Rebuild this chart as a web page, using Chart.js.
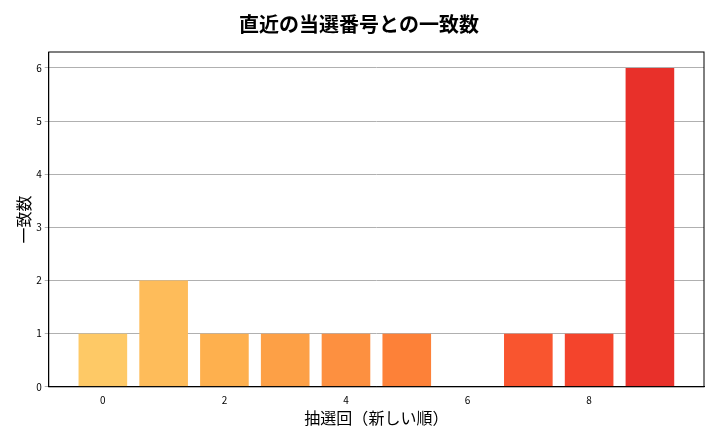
<!DOCTYPE html>
<html>
<head>
<meta charset="utf-8">
<script src="https://cdn.jsdelivr.net/npm/chart.js@4/dist/chart.umd.min.js"></script>
<style>
  body { margin: 0; background: #fff; }
  #wrap { width: 720px; height: 432px; }
</style>
</head>
<body>
<div id="wrap"><canvas id="chart"></canvas></div>
<script>
var draws = [0, 1, 2, 3, 4, 5, 6, 7, 8, 9];
var matches = [1, 2, 1, 1, 1, 1, 0, 1, 1, 6];
var barColors = ['#fec966', '#febc5a', '#feb04e', '#fda046', '#fd9040', '#fd8138', '#fc6c33', '#f9552f', '#f4442c', '#e8302a'];
var xTicks = [0, 2, 4, 6, 8];
var font = "'Noto Sans CJK JP', 'Noto Sans', sans-serif";

// matplotlib-style box around the plot area
var frame = {
    id: 'frame',
    afterDraw: function(chart){
        var a = chart.chartArea, ctx = chart.ctx;
        ctx.save();
        ctx.strokeStyle = '#000';
        ctx.lineWidth = 1;
        ctx.strokeRect(a.left, a.top, a.right - a.left, a.bottom - a.top);
        ctx.restore();
    }
};

new Chart(document.getElementById('chart'), {
    type: 'bar',
    data: {
        datasets: [{
            data: draws.map(function(d, i){ return {x: d, y: matches[i]}; }),
            backgroundColor: barColors,
            barPercentage: 0.8,
            categoryPercentage: 1.0
        }]
    },
    options: {
        responsive: true,
        maintainAspectRatio: false,
        animation: false,
        layout: { padding: { left: 14, right: 16, top: 6, bottom: 4 } },
        plugins: {
            legend: { display: false },
            tooltip: { enabled: false },
            title: {
                display: true,
                text: '直近の当選番号との一致数',
                color: '#000',
                font: { family: font, size: 20, weight: 'bold' },
                padding: { top: 6, bottom: 16 }
            }
        },
        scales: {
            x: {
                type: 'linear',
                offset: false,
                min: -0.89,
                max: 9.89,
                afterBuildTicks: function(axis){ axis.ticks = xTicks.map(function(v){ return {value: v}; }); },
                grid: { display: false, drawTicks: true, tickLength: 4 },
                border: { color: '#000' },
                ticks: { color: '#000', font: { family: font, size: 10 } },
                title: { display: true, text: '抽選回（新しい順）', color: '#000', font: { family: font, size: 16 }, padding: 0 }
            },
            y: {
                min: 0,
                max: 6.3,
                afterBuildTicks: function(axis){ axis.ticks = [0,1,2,3,4,5,6].map(function(v){ return {value: v}; }); },
                grid: { color: '#b0b0b0', tickLength: 4 },
                border: { color: '#000' },
                ticks: { color: '#000', font: { family: font, size: 10 } },
                title: { display: true, text: '一致数', color: '#000', font: { family: font, size: 16 }, padding: 0 }
            }
        }
    },
    plugins: [frame]
});
</script>
</body>
</html>
